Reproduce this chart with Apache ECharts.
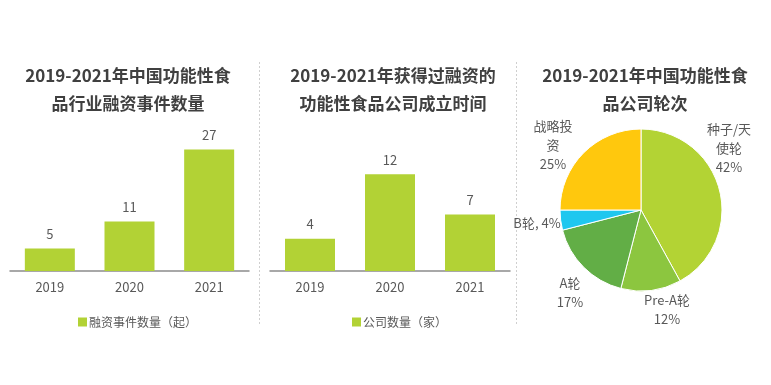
<!DOCTYPE html>
<html><head><meta charset="utf-8">
<script src="https://cdn.jsdelivr.net/npm/echarts@6/dist/echarts.min.js"></script>
<style>html,body{margin:0;padding:0;background:#fff}#c{width:771px;height:385px}</style>
</head><body><div id="c"></div>
<script>
const years = ['2019', '2020', '2021'];
const financingEvents = [5, 11, 27];
const companyCount = [4, 12, 7];
const pieNames = ['种子/天\n使轮', 'Pre-A轮', 'A轮', 'B轮', '战略投\n资'];
const pieValues = [42, 12, 17, 4, 25];
const pieColors = ['#b3d334', '#8cc63f', '#62ae46', '#1fc7ef', '#ffc80d'];
const labelPos = [[729, 148], [667, 310], [570, 293], [537, 223], [553, 145]];

const FONT = '"Noto Sans CJK SC", "Noto Sans", sans-serif';
const BAR = '#b2d235';
const chart = echarts.init(document.getElementById('c'), null, {renderer: 'canvas'});

const titleStyle = {fontFamily: FONT, fontSize: 17, fontWeight: 'bold', color: '#404040', lineHeight: 28};
function cat(i) {
  return {type: 'category', gridIndex: i, data: years,
    axisLine: {lineStyle: {color: '#8c8c8c', width: 1.5}}, axisTick: {show: false},
    axisLabel: {fontFamily: FONT, fontSize: 13, color: '#595959', margin: 10}};
}
function val(i, max) {
  return {type: 'value', gridIndex: i, min: 0, max: max, show: false, splitLine: {show: false}};
}
const barLabel = {show: true, position: 'top', distance: 8, fontFamily: FONT, fontSize: 13, color: '#595959'};

chart.setOption({
  animation: false,
  title: [
    {text: '2019-2021年中国功能性食\n品行业融资事件数量', left: 123, top: 57, textAlign: 'center', textStyle: titleStyle},
    {text: '2019-2021年获得过融资的\n功能性食品公司成立时间', left: 388, top: 57, textAlign: 'center', textStyle: titleStyle},
    {text: '2019-2021年中国功能性食\n品公司轮次', left: 640, top: 57, textAlign: 'center', textStyle: titleStyle}
  ],
  legend: [
    {data: ['融资事件数量（起）'], left: 73, top: 311, itemWidth: 9, itemHeight: 9, icon: 'rect',
      textStyle: {fontFamily: FONT, fontSize: 12, color: '#595959', padding: [0, 0, 0, -3]}},
    {data: ['公司数量（家）'], left: 347, top: 311, itemWidth: 9, itemHeight: 9, icon: 'rect',
      textStyle: {fontFamily: FONT, fontSize: 12, color: '#595959', padding: [0, 0, 0, -3]}}
  ],
  grid: [
    {left: 10, width: 239, top: 136, height: 135},
    {left: 270, width: 240, top: 142, height: 129}
  ],
  xAxis: [cat(0), cat(1)],
  yAxis: [val(0, 30), val(1, 16)],
  graphic: [
    {type: 'line', shape: {x1: 259.5, y1: 62, x2: 259.5, y2: 326}, style: {stroke: '#cfcfcf', lineWidth: 1, lineDash: [2, 2]}},
    {type: 'line', shape: {x1: 516.5, y1: 62, x2: 516.5, y2: 326}, style: {stroke: '#cfcfcf', lineWidth: 1, lineDash: [2, 2]}}
  ],
  series: [
    {name: '融资事件数量（起）', type: 'bar', xAxisIndex: 0, yAxisIndex: 0, data: financingEvents,
      barWidth: 50, itemStyle: {color: BAR}, label: barLabel},
    {name: '公司数量（家）', type: 'bar', xAxisIndex: 1, yAxisIndex: 1, data: companyCount,
      barWidth: 50, itemStyle: {color: BAR}, label: barLabel},
    {type: 'pie', center: [641, 210], radius: 81, startAngle: 90, clockwise: true, avoidLabelOverlap: false,
      data: pieNames.map((n, i) => ({name: n, value: pieValues[i], itemStyle: {color: pieColors[i]}})),
      itemStyle: {borderColor: '#fff', borderWidth: 1},
      label: {show: true, position: 'outside', overflow: 'none', fontFamily: FONT, fontSize: 13, color: '#595959', lineHeight: 19, align: 'center',
        formatter: p => p.name + (p.dataIndex === 3 ? ', ' : '\n') + p.value + '%'},
      labelLine: {show: false},
      labelLayout: p => ({x: labelPos[p.dataIndex][0], y: labelPos[p.dataIndex][1], align: 'center', verticalAlign: 'middle', hideOverlap: false})
    }
  ]
});
</script></body></html>
